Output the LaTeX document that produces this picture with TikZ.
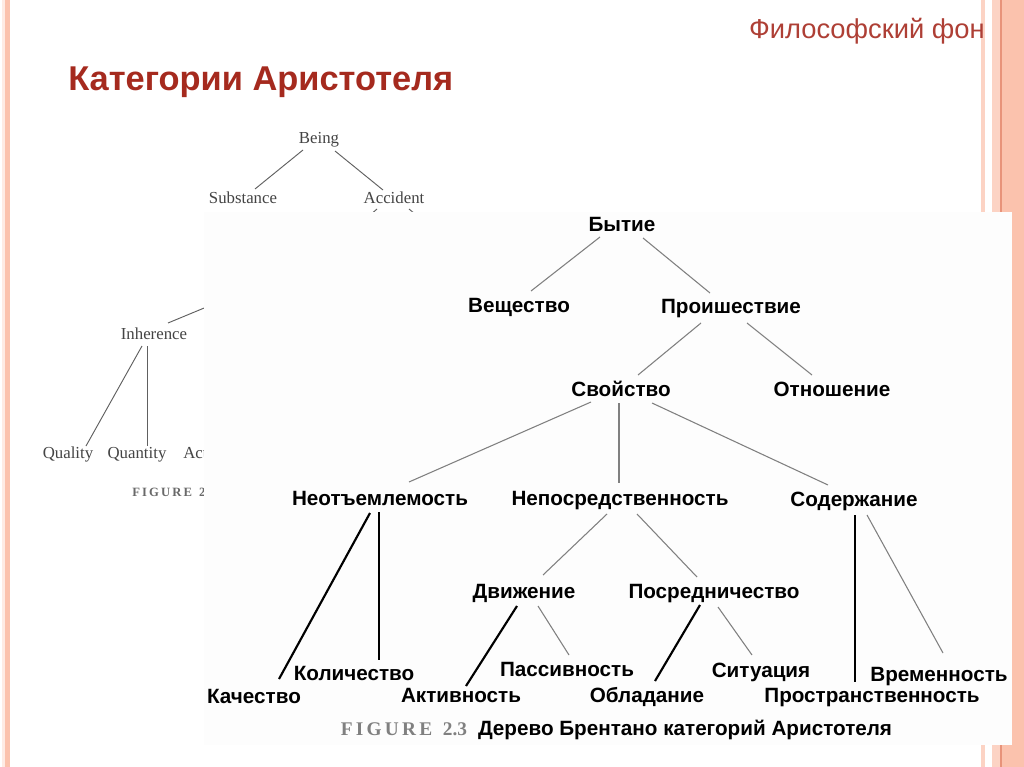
\documentclass[tikz,border=0pt]{standalone}
\usepackage{fontspec}
\setmainfont{Liberation Sans}
\newfontfamily\enfont{Liberation Serif}
\definecolor{salmon}{HTML}{FBC2AD}
\definecolor{salmonlt}{HTML}{FCD3C4}
\definecolor{salmondk}{HTML}{E8937A}
\definecolor{titlered}{HTML}{A52A1E}
\definecolor{enGray}{HTML}{444444}
\definecolor{edgeGray}{HTML}{808080}
\definecolor{boxwhite}{HTML}{FDFDFD}
\tikzset{
 lbl/.style={inner sep=0pt, anchor=base, font=\fontsize{15.5}{18}\selectfont\bfseries},
 enlbl/.style={inner sep=0pt, anchor=base, text=enGray, font=\enfont\fontsize{12.6}{15}\selectfont},
 ln/.style={draw=edgeGray, line width=0.8pt},
 hv/.style={draw=black, line width=1.6pt},
 enedge/.style={draw=enGray!85, line width=0.7pt},
}
\begin{document}
\begin{tikzpicture}[x=0.75pt,y=-0.75pt]
\useasboundingbox (0,0) rectangle (1024,767);
\fill[white] (0,0) rectangle (1024,767);
% left border
\fill[salmonlt!45] (2,0) rectangle (5,767);
\fill[salmon] (5,0) rectangle (10,767);
% right stripes
\fill[salmonlt] (981,0) rectangle (985,767);
\fill[salmonlt] (992,0) rectangle (1000,767);
\fill[salmondk] (1000,0) rectangle (1001.5,767);
\fill[salmon] (1001.5,0) rectangle (1024,767);

% header and title
\node[inner sep=0pt, anchor=base east, text=titlered!90, font=\fontsize{20.5}{24}\selectfont] (hdr) at (985,39) {Философский фон};
\node[inner sep=0pt, anchor=base west, text=titlered, font=\fontsize{25.8}{30}\selectfont\bfseries] (ttl) at (68,90) {Категории Аристотеля};

% background English tree
\node[enlbl] (being) at (319,143) {Being};
\node[enlbl] (subst) at (243,203) {Substance};
\node[enlbl] (accid) at (394,203) {Accident};
\node[enlbl] (inher) at (154,339) {Inherence};
\node[enlbl] (qual) at (68,458) {Quality};
\node[enlbl] (quant) at (137,458) {Quantity};
\node[enlbl, anchor=base west] (act) at (183,458) {Action};
\node[inner sep=0pt, anchor=base west, text=enGray!80, font=\enfont\fontsize{9.5}{11}\selectfont\bfseries] (fig1) at (132,496) {F\,I\,G\,U\,R\,E\;\;2.3};
\coordinate (hidL) at (330,250);
\coordinate (hidR) at (458,250);
\coordinate (hidP) at (262,284);
\draw[enedge] ([shift={(-16,7)}]being.base) -- ([shift={(12,-14)}]subst.base);
\draw[enedge] ([shift={(16,8)}]being.base) -- ([shift={(-11,-13)}]accid.base);
\draw[enedge] ([shift={(-17,6)}]accid.base) -- (hidL);
\draw[enedge] ([shift={(15,6)}]accid.base) -- (hidR);
\draw[enedge] (hidP) -- ([shift={(14,-16)}]inher.base);
\draw[enedge] ([shift={(-12,7)}]inher.base) -- ([shift={(18,-12)}]qual.base);
\draw[enedge] ([shift={(-7,7)}]inher.base) -- ([shift={(10,-12)}]quant.base);

% inset figure
\fill[boxwhite] (204,212) rectangle (1012,745);

\node[lbl] (byt) at (622,231) {Бытие};
\node[lbl] (vesh) at (519,312) {Вещество};
\node[lbl] (proish) at (731,313) {Проишествие};
\node[lbl] (svoy) at (621,396) {Свойство};
\node[lbl] (otn) at (832,396) {Отношение};
\node[lbl] (neot) at (380,505) {Неотъемлемость};
\node[lbl] (nepo) at (620,505) {Непосредственность};
\node[lbl] (sod) at (854,506) {Содержание};
\node[lbl] (dvizh) at (524,598) {Движение};
\node[lbl] (posr) at (714,598) {Посредничество};
\node[lbl] (kach) at (254,703) {Качество};
\node[lbl] (kol) at (354,680) {Количество};
\node[lbl] (akt) at (461,702) {Активность};
\node[lbl] (pass) at (567,676) {Пассивность};
\node[lbl] (obl) at (647,702) {Обладание};
\node[lbl] (sit) at (761,677) {Ситуация};
\node[lbl] (vrem) at (939,681) {Временность};
\node[lbl] (prostr) at (872,702) {Пространственность};
\node[lbl] (capt) at (685,735) {Дерево Брентано категорий Аристотеля};
\node[inner sep=0pt, anchor=base, text=gray, font=\enfont\fontsize{14.5}{16}\selectfont\bfseries] (fig) at (404,735) {F\,I\,G\,U\,R\,E\;\;2.3};

\draw[ln] ([shift={(-22,6)}]byt.base) -- ([shift={(12,-21)}]vesh.base);
\draw[ln] ([shift={(21,7)}]byt.base) -- ([shift={(-21,-20)}]proish.base);
\draw[ln] ([shift={(-30,10)}]proish.base) -- ([shift={(17,-21)}]svoy.base);
\draw[ln] ([shift={(16,10)}]proish.base) -- ([shift={(-20,-21)}]otn.base);
\draw[ln] ([shift={(-30,6)}]svoy.base) -- ([shift={(29,-23)}]neot.base);
\draw[ln] ([shift={(-2,7)}]svoy.base) -- ([shift={(-1,-22)}]nepo.base);
\draw[ln] ([shift={(31,7)}]svoy.base) -- ([shift={(-26,-21)}]sod.base);
\draw[hv] ([shift={(-10,8)}]neot.base) -- ([shift={(25,-24)}]kach.base);
\draw[hv] ([shift={(-1,7)}]neot.base) -- ([shift={(25,-20)}]kol.base);
\draw[ln] ([shift={(-13,9)}]nepo.base) -- ([shift={(19,-23)}]dvizh.base);
\draw[ln] ([shift={(17,9)}]nepo.base) -- ([shift={(-17,-21)}]posr.base);
\draw[hv] ([shift={(-7,8)}]dvizh.base) -- ([shift={(5,-16)}]akt.base);
\draw[ln] ([shift={(14,8)}]dvizh.base) -- ([shift={(2,-21)}]pass.base);
\draw[hv] ([shift={(-14,7)}]posr.base) -- ([shift={(8,-21)}]obl.base);
\draw[ln] ([shift={(4,9)}]posr.base) -- ([shift={(-9,-22)}]sit.base);
\draw[hv] ([shift={(1,9)}]sod.base) -- ([shift={(-17,-20)}]prostr.base);
\draw[ln] ([shift={(13,9)}]sod.base) -- ([shift={(4,-28)}]vrem.base);
\end{tikzpicture}
\end{document}
